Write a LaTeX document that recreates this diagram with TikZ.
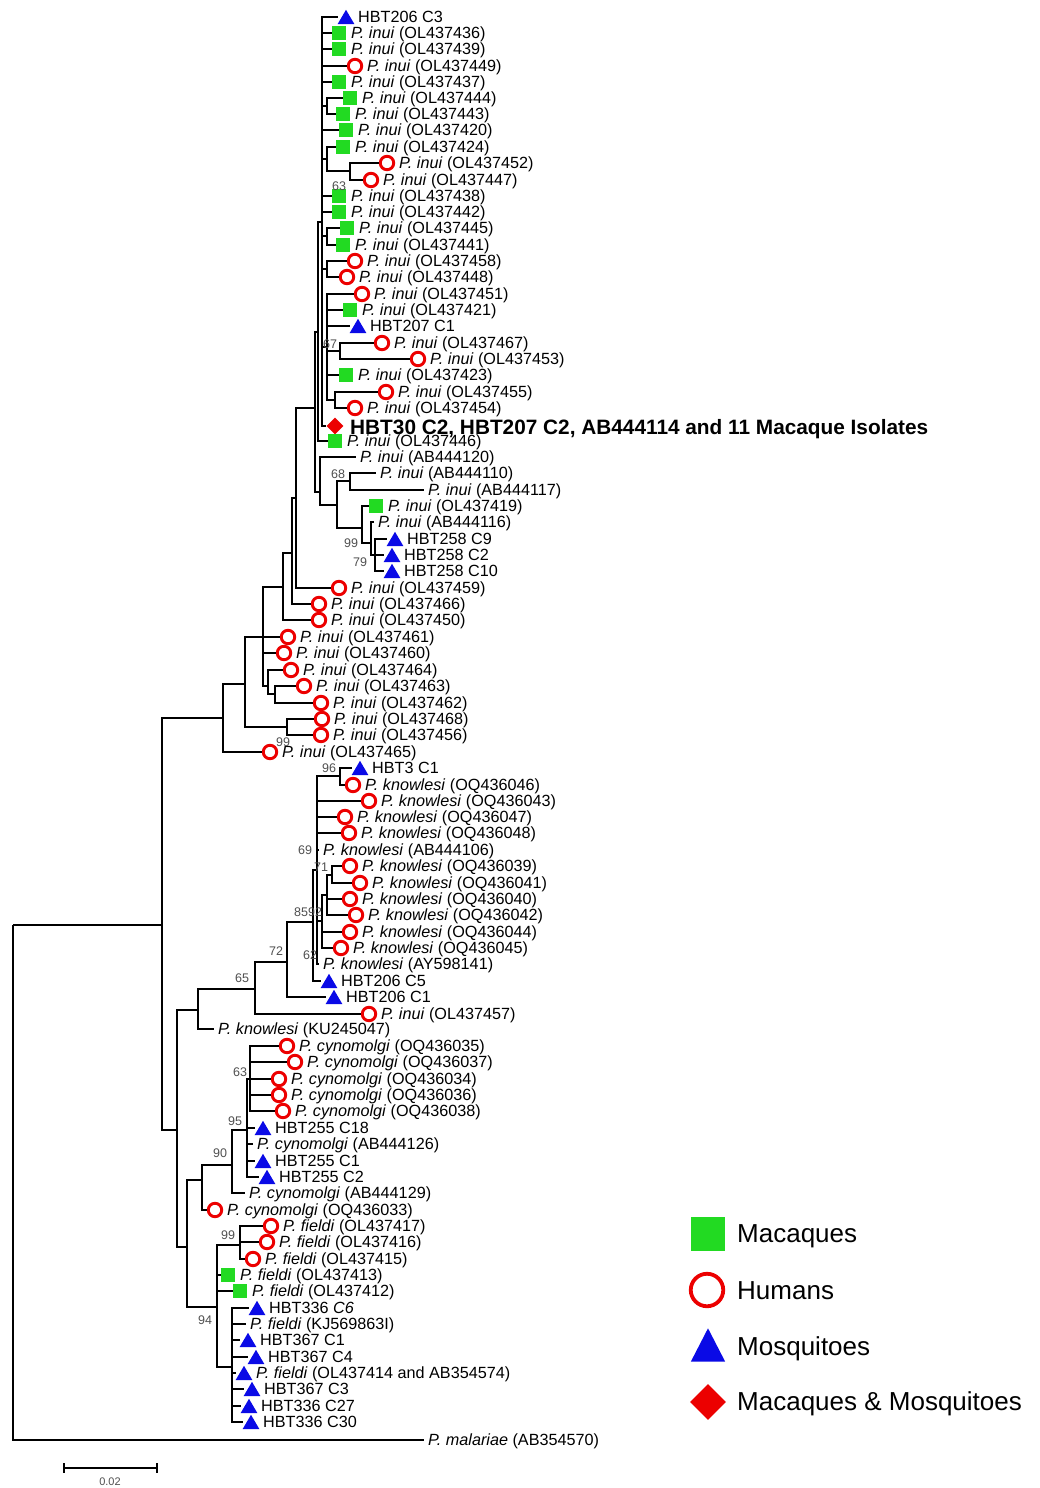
\documentclass[tikz,border=0pt]{standalone}
\usepackage{fontspec}
\setmainfont{Liberation Sans}
\usetikzlibrary{shapes.geometric}
\definecolor{mgreen}{RGB}{34,218,34}
\definecolor{hred}{RGB}{236,0,0}
\definecolor{mblue}{RGB}{10,10,230}
\definecolor{bsgray}{RGB}{80,80,80}
\newcommand\spInui{\textit{P. inui}}
\newcommand\spKnow{\textit{P. knowlesi}}
\newcommand\spCyno{\textit{P. cynomolgi}}
\newcommand\spFiel{\textit{P. fieldi}}
\newcommand\SqM[3]{\node[sqm] (#1) at (#2,#3) {};}
\newcommand\CiM[3]{\node[cim] (#1) at (#2,#3) {};}
\newcommand\TrM[3]{\node[trm] (#1) at (#2,#3) {};\fill[mblue] (#1.south west) -- (#1.south east) -- (#1.north) -- cycle;}
\newcommand\TxL[2]{\node[lab] (#1t) at ([xshift=12pt]#1.center) {#2};}
\newcommand\BareL[4]{\node[bare] (#1) at (#2,#3) {#4};}
\newcommand\BsV[3]{\node[bsv] at (#1,#2) {#3};}
\newcommand\Kids[2]{\foreach \c in {#2} {\draw[br] (#1) |- (\c);}}
\begin{document}
\begin{tikzpicture}[x=1pt,y=-1pt,
  br/.style={line width=1.35pt,black},
  sqm/.style={rectangle,fill=mgreen,minimum size=14.5pt,inner sep=0},
  cim/.style={circle,draw=hred,line width=2.9pt,minimum size=13.5pt,inner sep=0},
  trm/.style={rectangle,minimum width=16.5pt,minimum height=14pt,inner sep=0},
  dim/.style={diamond,fill=hred,aspect=1,minimum size=17pt,inner sep=0},
  lab/.style={anchor=west,inner sep=0,text height=11.6pt,text depth=0pt,font=\fontsize{16.2pt}{18pt}\selectfont},
  bare/.style={lab,inner xsep=4pt},
  bsv/.style={inner sep=0,font=\fontsize{12.5pt}{14pt}\selectfont,text=bsgray},
  leg/.style={anchor=west,inner sep=0,text height=18.6pt,text depth=0pt,font=\fontsize{26pt}{30pt}\selectfont}]
\fill[white] (0,0) rectangle (1040,1488);
\useasboundingbox (0,0) rectangle (1040,1488);

% ---------------- leaves ----------------
\TrM{m1}{346}{17}\TxL{m1}{HBT206 C3}
\SqM{m2}{339}{33}\TxL{m2}{\spInui{} (OL437436)}
\SqM{m3}{339}{49}\TxL{m3}{\spInui{} (OL437439)}
\CiM{m4}{355}{66}\TxL{m4}{\spInui{} (OL437449)}
\SqM{m5}{339}{82}\TxL{m5}{\spInui{} (OL437437)}
\SqM{m6}{350}{98}\TxL{m6}{\spInui{} (OL437444)}
\SqM{m7}{343}{114}\TxL{m7}{\spInui{} (OL437443)}
\SqM{m8}{346}{130}\TxL{m8}{\spInui{} (OL437420)}
\SqM{m9}{343}{147}\TxL{m9}{\spInui{} (OL437424)}
\CiM{m10}{387}{163}\TxL{m10}{\spInui{} (OL437452)}
\CiM{m11}{371}{180}\TxL{m11}{\spInui{} (OL437447)}
\SqM{m12}{339}{196}\TxL{m12}{\spInui{} (OL437438)}
\SqM{m13}{339}{212}\TxL{m13}{\spInui{} (OL437442)}
\SqM{m14}{347}{228}\TxL{m14}{\spInui{} (OL437445)}
\SqM{m15}{343}{245}\TxL{m15}{\spInui{} (OL437441)}
\CiM{m16}{355}{261}\TxL{m16}{\spInui{} (OL437458)}
\CiM{m17}{347}{277}\TxL{m17}{\spInui{} (OL437448)}
\CiM{m18}{362}{294}\TxL{m18}{\spInui{} (OL437451)}
\SqM{m19}{350}{310}\TxL{m19}{\spInui{} (OL437421)}
\TrM{m20}{358}{326}\TxL{m20}{HBT207 C1}
\CiM{m21}{382}{343}\TxL{m21}{\spInui{} (OL437467)}
\CiM{m22}{418}{359}\TxL{m22}{\spInui{} (OL437453)}
\SqM{m23}{346}{375}\TxL{m23}{\spInui{} (OL437423)}
\CiM{m24}{386}{392}\TxL{m24}{\spInui{} (OL437455)}
\CiM{m25}{355}{408}\TxL{m25}{\spInui{} (OL437454)}
\node[dim] (m26) at (335,426) {};
\node[anchor=west,inner sep=0,text height=14.8pt,text depth=0pt,font=\fontsize{20.8pt}{23pt}\selectfont\bfseries] (m26t) at (350,427) {HBT30 C2, HBT207 C2, AB444114 and 11 Macaque Isolates};
\SqM{m27}{335}{441}\TxL{m27}{\spInui{} (OL437446)}
\BareL{m28}{356}{457}{\spInui{} (AB444120)}
\BareL{m29}{376}{473}{\spInui{} (AB444110)}
\BareL{m30}{424}{490}{\spInui{} (AB444117)}
\SqM{m31}{376}{506}\TxL{m31}{\spInui{} (OL437419)}
\BareL{m32}{374}{522}{\spInui{} (AB444116)}
\TrM{m33}{395}{539}\TxL{m33}{HBT258 C9}
\TrM{m34}{392}{555}\TxL{m34}{HBT258 C2}
\TrM{m35}{392}{571}\TxL{m35}{HBT258 C10}
\CiM{m36}{339}{588}\TxL{m36}{\spInui{} (OL437459)}
\CiM{m37}{319}{604}\TxL{m37}{\spInui{} (OL437466)}
\CiM{m38}{319}{620}\TxL{m38}{\spInui{} (OL437450)}
\CiM{m39}{288}{637}\TxL{m39}{\spInui{} (OL437461)}
\CiM{m40}{284}{653}\TxL{m40}{\spInui{} (OL437460)}
\CiM{m41}{291}{670}\TxL{m41}{\spInui{} (OL437464)}
\CiM{m42}{304}{686}\TxL{m42}{\spInui{} (OL437463)}
\CiM{m43}{321}{703}\TxL{m43}{\spInui{} (OL437462)}
\CiM{m44}{322}{719}\TxL{m44}{\spInui{} (OL437468)}
\CiM{m45}{321}{735}\TxL{m45}{\spInui{} (OL437456)}
\CiM{m46}{270}{752}\TxL{m46}{\spInui{} (OL437465)}
\TrM{m47}{360}{768}\TxL{m47}{HBT3 C1}
\CiM{m48}{353}{785}\TxL{m48}{\spKnow{} (OQ436046)}
\CiM{m49}{369}{801}\TxL{m49}{\spKnow{} (OQ436043)}
\CiM{m50}{345}{817}\TxL{m50}{\spKnow{} (OQ436047)}
\CiM{m51}{349}{833}\TxL{m51}{\spKnow{} (OQ436048)}
\BareL{m52}{319}{850}{\spKnow{} (AB444106)}
\CiM{m53}{350}{866}\TxL{m53}{\spKnow{} (OQ436039)}
\CiM{m54}{360}{883}\TxL{m54}{\spKnow{} (OQ436041)}
\CiM{m55}{350}{899}\TxL{m55}{\spKnow{} (OQ436040)}
\CiM{m56}{356}{915}\TxL{m56}{\spKnow{} (OQ436042)}
\CiM{m57}{350}{932}\TxL{m57}{\spKnow{} (OQ436044)}
\CiM{m58}{341}{948}\TxL{m58}{\spKnow{} (OQ436045)}
\BareL{m59}{319}{964}{\spKnow{} (AY598141)}
\TrM{m60}{329}{981}\TxL{m60}{HBT206 C5}
\TrM{m61}{334}{997}\TxL{m61}{HBT206 C1}
\CiM{m62}{369}{1014}\TxL{m62}{\spInui{} (OL437457)}
\BareL{m63}{214}{1029}{\spKnow{} (KU245047)}
\CiM{m64}{287}{1046}\TxL{m64}{\spCyno{} (OQ436035)}
\CiM{m65}{295}{1062}\TxL{m65}{\spCyno{} (OQ436037)}
\CiM{m66}{279}{1079}\TxL{m66}{\spCyno{} (OQ436034)}
\CiM{m67}{279}{1095}\TxL{m67}{\spCyno{} (OQ436036)}
\CiM{m68}{283}{1111}\TxL{m68}{\spCyno{} (OQ436038)}
\TrM{m69}{263}{1128}\TxL{m69}{HBT255 C18}
\BareL{m70}{253}{1144}{\spCyno{} (AB444126)}
\TrM{m71}{263}{1161}\TxL{m71}{HBT255 C1}
\TrM{m72}{267}{1177}\TxL{m72}{HBT255 C2}
\BareL{m73}{245}{1193}{\spCyno{} (AB444129)}
\CiM{m74}{215}{1210}\TxL{m74}{\spCyno{} (OQ436033)}
\CiM{m75}{271}{1226}\TxL{m75}{\spFiel{} (OL437417)}
\CiM{m76}{267}{1242}\TxL{m76}{\spFiel{} (OL437416)}
\CiM{m77}{253}{1259}\TxL{m77}{\spFiel{} (OL437415)}
\SqM{m78}{228}{1275}\TxL{m78}{\spFiel{} (OL437413)}
\SqM{m79}{240}{1291}\TxL{m79}{\spFiel{} (OL437412)}
\TrM{m80}{257}{1308}\TxL{m80}{HBT336 \textit{C6}}
\BareL{m81}{246}{1324}{\spFiel{} (KJ569863I)}
\TrM{m82}{248}{1340}\TxL{m82}{HBT367 C1}
\TrM{m83}{256}{1357}\TxL{m83}{HBT367 C4}
\TrM{m84}{244}{1373}\TxL{m84}{\spFiel{} (OL437414 and AB354574)}
\TrM{m85}{252}{1389}\TxL{m85}{HBT367 C3}
\TrM{m86}{249}{1406}\TxL{m86}{HBT336 C27}
\TrM{m87}{251}{1422}\TxL{m87}{HBT336 C30}
\BareL{m88}{424}{1440}{\textit{P. malariae} (AB354570)}

% ---------------- internal nodes ----------------
\coordinate (R) at (13,925);
\coordinate (A) at (162,925);
\coordinate (B) at (223,718);
\coordinate (C) at (245,684);
\coordinate (D) at (263,637);
\coordinate (E) at (287,727);
\coordinate (F) at (268,686);
\coordinate (F2) at (275,694);
\coordinate (G) at (283,587);
\coordinate (H) at (292,553);
\coordinate (I) at (296,498);
\coordinate (J) at (315,408);
\coordinate (K1) at (318,332);
\coordinate (T) at (322,222);
\coordinate (N67a) at (327,106);
\coordinate (N911) at (327,159);
\coordinate (N1011) at (350,171);
\coordinate (N1415) at (327,236);
\coordinate (N1617) at (327,269);
\coordinate (N1825) at (327,347);
\coordinate (N67) at (340,351);
\coordinate (N2425) at (335,400);
\coordinate (N68) at (320,492);
\coordinate (Na) at (337,505);
\coordinate (Nb) at (350,481);
\coordinate (N99) at (362,528);
\coordinate (Nc) at (371,543);
\coordinate (N79) at (375,555);
\coordinate (K) at (177,1130);
\coordinate (Kn) at (198,1010);
\coordinate (N65) at (255,989);
\coordinate (N72) at (287,962);
\coordinate (N85) at (313,922);
\coordinate (N62) at (317,870);
\coordinate (N96) at (340,776);
\coordinate (NR) at (322,921);
\coordinate (NQ) at (327,895);
\coordinate (N71) at (332,875);
\coordinate (L) at (187,1247);
\coordinate (M) at (202,1180);
\coordinate (N90) at (232,1165);
\coordinate (N95) at (247,1130);
\coordinate (N63) at (250,1079);
\coordinate (N94) at (217,1307);
\coordinate (N99f) at (240,1245);
\coordinate (NF2) at (232,1367);

% ---------------- branches ----------------
\Kids{R}{A,m88}
\Kids{A}{B,K}
\Kids{B}{C,m46}
\Kids{C}{D,E}
\Kids{D}{G,m39,m40,F}
\Kids{F}{m41,F2}
\Kids{F2}{m42,m43}
\Kids{E}{m44,m45}
\Kids{G}{H,m38}
\Kids{H}{I,m37}
\Kids{I}{J,m36}
\Kids{J}{K1,N68}
\Kids{K1}{T,m27}
\Kids{T}{m1,m2,m3,m4,m5,N67a,m8,N911,m12,m13,N1415,N1617,N1825,m26}
\Kids{N67a}{m6,m7}
\Kids{N911}{m9,N1011}
\Kids{N1011}{m10,m11}
\Kids{N1415}{m14,m15}
\Kids{N1617}{m16,m17}
\Kids{N1825}{m18,m19,m20,N67,m23,N2425}
\Kids{N67}{m21,m22}
\Kids{N2425}{m24,m25}
\Kids{N68}{m28,Na}
\Kids{Na}{Nb,N99}
\Kids{Nb}{m29,m30}
\Kids{N99}{m31,Nc}
\Kids{Nc}{m32,N79}
\Kids{N79}{m33,m34,m35}
\Kids{K}{Kn,L}
\Kids{Kn}{N65,m63}
\Kids{N65}{N72,m62}
\Kids{N72}{N85,m61}
\Kids{N85}{N62,m60}
\Kids{N62}{N96,m49,m50,m51,m52,NR,m59}
\Kids{N96}{m47,m48}
\Kids{NR}{NQ,m57,m58}
\Kids{NQ}{N71,m55,m56}
\Kids{N71}{m53,m54}
\Kids{L}{M,N94}
\Kids{M}{N90,m74}
\Kids{N90}{N95,m73}
\Kids{N95}{N63,m69,m70,m71,m72}
\Kids{N63}{m64,m65,m66,m67,m68}
\Kids{N94}{N99f,m78,m79,NF2}
\Kids{N99f}{m75,m76,m77}
\Kids{NF2}{m80,m81,m82,m83,m84,m85,m86,m87}

% ---------------- bootstrap values ----------------
\BsV{339}{186}{63}
\BsV{330}{344}{67}
\BsV{338}{474}{68}
\BsV{351}{543}{99}
\BsV{360}{562}{79}
\BsV{283}{742}{99}
\BsV{329}{768}{96}
\BsV{305}{850}{69}
\BsV{321}{867}{71}
\BsV{301}{912}{85}
\BsV{315}{912}{92}
\BsV{310}{955}{62}
\BsV{276}{951}{72}
\BsV{242}{978}{65}
\BsV{240}{1072}{63}
\BsV{235}{1121}{95}
\BsV{220}{1153}{90}
\BsV{228}{1235}{99}
\BsV{205}{1320}{94}

% ---------------- scale bar ----------------
\coordinate (sb1) at (64,1468);
\coordinate (sb2) at (157,1468);
\draw[line width=1.3pt] (sb1) -- (sb2);
\draw[line width=1.3pt] ([yshift=5pt]sb1) -- ([yshift=-5pt]sb1);
\draw[line width=1.3pt] ([yshift=5pt]sb2) -- ([yshift=-5pt]sb2);
\node[inner sep=0,font=\fontsize{11pt}{12pt}\selectfont,text=bsgray] (sbl) at (110,1482) {0.02};

% ---------------- legend ----------------
\node[sqm,minimum size=34pt] (lg1) at (708,1234) {};
\node[leg] (lg1t) at (737,1233) {Macaques};
\node[cim,minimum size=32.5pt,line width=3.8pt] (lg2) at (707,1290) {};
\node[leg] (lg2t) at (737,1290) {Humans};
\node[trm,minimum width=34pt,minimum height=33pt] (lg3) at (708,1345) {};
\fill[mblue] (lg3.south west) -- (lg3.south east) -- (lg3.north) -- cycle;
\node[leg] (lg3t) at (737,1346) {Mosquitoes};
\node[dim,minimum size=36pt] (lg4) at (708,1402) {};
\node[leg] (lg4t) at (737,1401) {Macaques \& Mosquitoes};
\end{tikzpicture}
\end{document}
